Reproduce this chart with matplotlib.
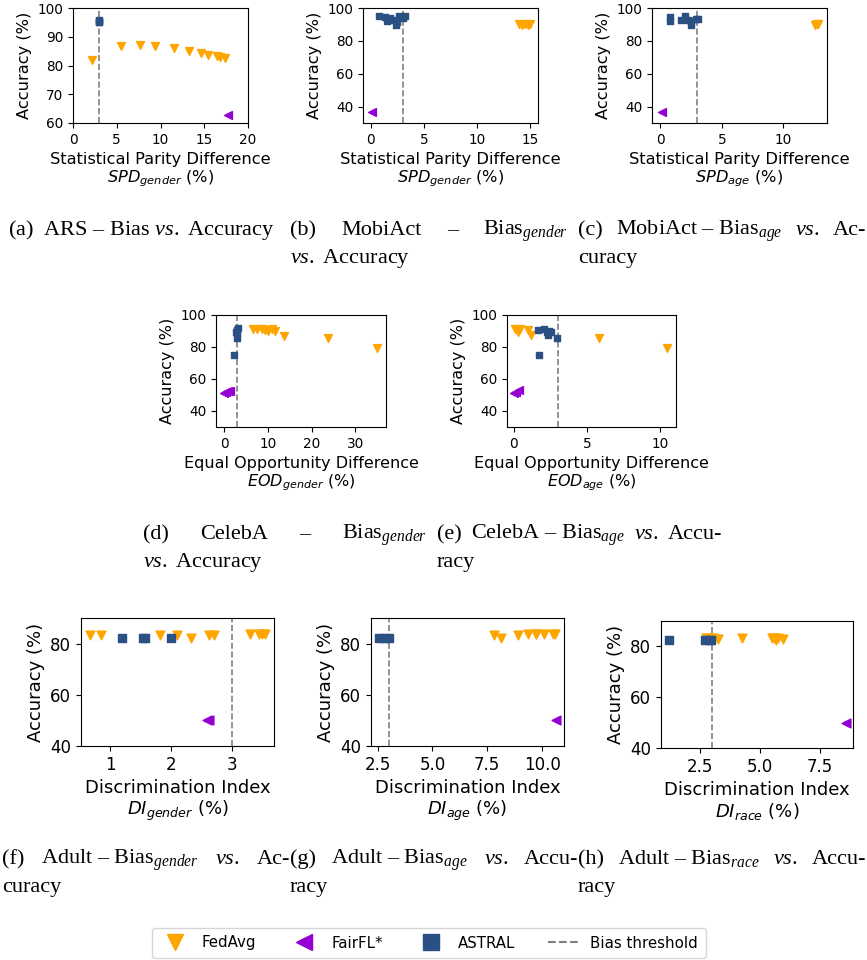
import matplotlib
matplotlib.use("Agg")
import matplotlib.pyplot as plt
from matplotlib.lines import Line2D
from matplotlib.transforms import IdentityTransform

# ---------------------------------------------------------------- data
THRESHOLD = 3.0

# (a) ARS, SPD gender
ars_fedavg_x = [2.2, 5.5, 7.7, 9.4, 11.5, 13.3, 14.6, 15.4, 16.4, 16.8, 17.4]
ars_fedavg_y = [81.8, 86.7, 87.0, 86.9, 86.0, 84.9, 84.2, 83.8, 83.2, 83.0, 82.7]
ars_fairfl_x = [17.7]
ars_fairfl_y = [62.7]
ars_astral_x = [2.95, 2.97, 2.98, 3.0]
ars_astral_y = [95.8, 95.2, 95.5, 95.0]

# (b) MobiAct, SPD gender
mob_g_fedavg_x = [13.9, 14.2, 14.5, 14.8, 15.0]
mob_g_fedavg_y = [90.5, 89.8, 90.2, 89.6, 90.3]
mob_g_fairfl_x = [0.1]
mob_g_fairfl_y = [36.8]
mob_g_astral_x = [0.8, 1.3, 1.8, 1.5, 2.1, 2.5, 2.4, 2.7, 3.0, 3.2]
mob_g_astral_y = [94.9, 94.5, 93.9, 91.9, 92.5, 91.3, 89.8, 94.9, 93.9, 94.9]

# (c) MobiAct, SPD age
mob_a_fedavg_x = [12.6, 12.7, 12.8]
mob_a_fedavg_y = [89.8, 90.4, 90.0]
mob_a_fairfl_x = [0.14]
mob_a_fairfl_y = [36.9]
mob_a_astral_x = [0.76, 0.76, 1.65, 2.0, 2.25, 2.5, 2.5, 2.9, 3.05]
mob_a_astral_y = [94.5, 91.9, 92.5, 94.9, 92.9, 91.9, 89.8, 93.3, 93.5]

# (d) CelebA, EOD gender
cel_g_fedavg_x = [6.7, 7.5, 8.6, 9.4, 10.1, 10.9, 11.7, 13.6, 23.8, 35.0]
cel_g_fedavg_y = [91.0, 91.0, 91.0, 90.6, 90.2, 91.0, 90.2, 86.8, 85.8, 79.5]
cel_g_fairfl_x = [0.0, 0.5, 1.0, 1.4]
cel_g_fairfl_y = [51.5, 52.0, 52.3, 52.6]
cel_g_astral_x = [2.3, 2.9, 2.9, 2.9, 3.1, 2.7]
cel_g_astral_y = [75.3, 90.6, 88.5, 85.4, 91.6, 89.5]

# (e) CelebA, EOD age
cel_a_fedavg_x = [0.11, 0.34, 0.45, 0.3, 0.98, 1.18, 5.86, 10.5]
cel_a_fedavg_y = [91.0, 90.6, 91.0, 89.5, 90.6, 87.5, 85.8, 79.5]
cel_a_fairfl_x = [0.05, 0.18, 0.34]
cel_a_fairfl_y = [51.5, 51.9, 53.0]
cel_a_astral_x = [1.64, 2.05, 2.27, 2.32, 2.55, 2.39, 2.95, 1.73]
cel_a_astral_y = [90.6, 91.0, 89.5, 87.5, 89.5, 90.2, 85.4, 75.3]

# (f) Adult, DI gender
adu_g_fedavg_x = [0.66, 0.84, 1.81, 2.09, 2.32, 2.61, 2.69, 3.29, 3.43, 3.48, 3.53]
adu_g_fedavg_y = [83.2, 83.5, 83.5, 83.2, 82.3, 83.5, 83.5, 83.6, 83.6, 83.6, 83.6]
adu_g_fairfl_x = [2.59, 2.62]
adu_g_fairfl_y = [50.0, 50.1]
adu_g_astral_x = [1.19, 1.54, 1.56, 2.0]
adu_g_astral_y = [82.3, 82.3, 82.3, 82.3]

# (g) Adult, DI age
adu_a_fedavg_x = [7.8, 8.12, 8.91, 9.36, 9.71, 9.74, 10.08, 10.5, 10.58]
adu_a_fedavg_y = [83.2, 82.3, 83.5, 83.6, 83.6, 83.8, 83.6, 83.6, 83.6]
adu_a_fairfl_x = [10.65]
adu_a_fairfl_y = [50.1]
adu_a_astral_x = [2.55, 2.77, 3.0]
adu_a_astral_y = [82.3, 82.3, 82.3]

# (h) Adult, DI race
adu_r_fedavg_x = [2.75, 2.9, 3.05, 3.25, 4.23, 5.5, 5.6, 5.65, 5.75, 5.95]
adu_r_fedavg_y = [83.5, 83.5, 83.3, 83.0, 83.5, 83.5, 83.3, 82.5, 83.2, 83.0]
adu_r_fairfl_x = [8.6]
adu_r_fairfl_y = [50.0]
adu_r_astral_x = [1.2, 2.7, 2.85, 2.95]
adu_r_astral_y = [82.5, 82.5, 82.5, 82.5]

series_labels = ["FedAvg", "FairFL*", "ASTRAL", "Bias threshold"]

# ---------------------------------------------------------------- style
W, H, DPI = 867, 960, 100
FEDAVG_COLOR = "#FFA500"
FAIRFL_COLOR = "#9400D3"
ASTRAL_COLOR = "#2B5084"
THRESH_COLOR = "#808080"

plt.rcParams["font.family"] = "DejaVu Sans"
plt.rcParams["mathtext.rm"] = "Liberation Serif"
plt.rcParams["mathtext.it"] = "Liberation Serif:italic"
plt.rcParams["mathtext.bf"] = "Liberation Serif:bold"

fig = plt.figure(figsize=(W / DPI, H / DPI), dpi=DPI)

metric_names = {"SPD": "Statistical Parity Difference",
                "EOD": "Equal Opportunity Difference",
                "DI": "Discrimination Index"}

panels = [
    dict(box=(73, 8, 248, 123), xlim=(0, 20), ylim=(60, 100),
         xticks=[0, 5, 10, 15, 20], yticks=[60, 70, 80, 90, 100],
         metric="SPD", attr="gender", lab=11.7, tick=9.8,
         fedavg=(ars_fedavg_x, ars_fedavg_y), fairfl=(ars_fairfl_x, ars_fairfl_y),
         astral=(ars_astral_x, ars_astral_y)),
    dict(box=(363, 8, 538, 123), xlim=(-0.72, 15.72), ylim=(30, 100),
         xticks=[0, 5, 10, 15], yticks=[40, 60, 80, 100],
         metric="SPD", attr="gender", lab=11.7, tick=9.8,
         fedavg=(mob_g_fedavg_x, mob_g_fedavg_y), fairfl=(mob_g_fairfl_x, mob_g_fairfl_y),
         astral=(mob_g_astral_x, mob_g_astral_y)),
    dict(box=(652, 8, 827, 123), xlim=(-0.68, 13.54), ylim=(30, 100),
         xticks=[0, 5, 10], yticks=[40, 60, 80, 100],
         metric="SPD", attr="age", lab=11.7, tick=9.8,
         fedavg=(mob_a_fedavg_x, mob_a_fedavg_y), fairfl=(mob_a_fairfl_x, mob_a_fairfl_y),
         astral=(mob_a_astral_x, mob_a_astral_y)),
    dict(box=(216, 315, 386, 427), xlim=(-1.83, 37.0), ylim=(30, 100),
         xticks=[0, 10, 20, 30], yticks=[40, 60, 80, 100],
         metric="EOD", attr="gender", lab=11.5, tick=9.8,
         fedavg=(cel_g_fedavg_x, cel_g_fedavg_y), fairfl=(cel_g_fairfl_x, cel_g_fairfl_y),
         astral=(cel_g_astral_x, cel_g_astral_y)),
    dict(box=(507, 315, 676, 427), xlim=(-0.45, 11.09), ylim=(30, 100),
         xticks=[0, 5, 10], yticks=[40, 60, 80, 100],
         metric="EOD", attr="age", lab=11.5, tick=9.8,
         fedavg=(cel_a_fedavg_x, cel_a_fedavg_y), fairfl=(cel_a_fairfl_x, cel_a_fairfl_y),
         astral=(cel_a_astral_x, cel_a_astral_y)),
    dict(box=(81, 618, 274, 746), xlim=(0.52, 3.68), ylim=(40, 90),
         xticks=[1, 2, 3], yticks=[40, 60, 80],
         metric="DI", attr="gender", lab=13, tick=12,
         fedavg=(adu_g_fedavg_x, adu_g_fedavg_y), fairfl=(adu_g_fairfl_x, adu_g_fairfl_y),
         astral=(adu_g_astral_x, adu_g_astral_y)),
    dict(box=(371, 618, 564, 746), xlim=(2.2, 11.0), ylim=(40, 90),
         xticks=[2.5, 5.0, 7.5, 10.0], yticks=[40, 60, 80],
         metric="DI", attr="age", lab=13, tick=12,
         fedavg=(adu_a_fedavg_x, adu_a_fedavg_y), fairfl=(adu_a_fairfl_x, adu_a_fairfl_y),
         astral=(adu_a_astral_x, adu_a_astral_y)),
    dict(box=(661, 621, 853, 748), xlim=(0.86, 8.89), ylim=(40, 90),
         xticks=[2.5, 5.0, 7.5], yticks=[40, 60, 80],
         metric="DI", attr="race", lab=13, tick=12,
         fedavg=(adu_r_fedavg_x, adu_r_fedavg_y), fairfl=(adu_r_fairfl_x, adu_r_fairfl_y),
         astral=(adu_r_astral_x, adu_r_astral_y)),
]

for p in panels:
    x0, y0, x1, y1 = p["box"]
    big = p["tick"] > 11
    ax = fig.add_axes([x0 / W, 1 - y1 / H, (x1 - x0) / W, (y1 - y0) / H])
    ax.scatter(*p["fedavg"], marker="v", s=40 if big else 32, color=FEDAVG_COLOR, zorder=3)
    ax.scatter(*p["fairfl"], marker="<", s=40 if big else 32, color=FAIRFL_COLOR, zorder=3)
    ax.scatter(*p["astral"], marker="s", s=30 if big else 24, color=ASTRAL_COLOR, zorder=4)
    ax.axvline(THRESHOLD, color=THRESH_COLOR, ls="--", lw=1.2, zorder=2)
    ax.set_xlim(*p["xlim"])
    ax.set_ylim(*p["ylim"])
    ax.set_xticks(p["xticks"])
    ax.set_yticks(p["yticks"])
    ax.tick_params(labelsize=p["tick"])
    ax.set_xlabel(f"{metric_names[p['metric']]}\n${p['metric']}_{{{p['attr']}}}$ (%)",
                  fontsize=p["lab"], linespacing=1.1)
    ax.set_ylabel("Accuracy (%)", fontsize=p["lab"])

# ---------------------------------------------------------------- captions
renderer = fig.canvas.get_renderer()
CAP_SIZE = 16


def caption_line(tokens, x0, y_base, x1=None):
    """Place tokens on one baseline; spread them to end at x1 if given."""
    if isinstance(tokens, str):
        tokens = [tokens]
    texts = [fig.text(0, 0, tok, transform=IdentityTransform(), fontsize=CAP_SIZE,
                      family="Liberation Serif", math_fontfamily="custom",
                      ha="left", va="baseline") for tok in tokens]
    widths = [t.get_window_extent(renderer).width for t in texts]
    gap = 0 if (x1 is None or len(texts) == 1) else (x1 - x0 - sum(widths)) / (len(texts) - 1)
    x = x0
    for t, w in zip(texts, widths):
        t.set_position((x, H - y_base))
        x += w + gap


VS = r"$vs.$"
caption_line(r"(a)  ARS – Bias " + VS + " Accuracy", 8, 235)
caption_line(["(b)", "MobiAct", "–", r"Bias$_{gender}$"], 290, 235, 568)
caption_line(VS + " Accuracy", 290, 263)
caption_line(["(c)", "MobiAct – Bias$_{age}$", VS, "Ac-"], 578, 235, 866)
caption_line("curacy", 578, 263)

caption_line(["(d)", "CelebA", "–", r"Bias$_{gender}$"], 143, 539, 427)
caption_line(VS + " Accuracy", 143, 567)
caption_line(["(e)", "CelebA – Bias$_{age}$", VS, "Accu-"], 437, 539, 722)
caption_line("racy", 437, 567)

caption_line(["(f)", "Adult – Bias$_{gender}$", VS, "Ac-"], 2, 864, 290)
caption_line("curacy", 2, 892)
caption_line(["(g)", "Adult – Bias$_{age}$", VS, "Accu-"], 290, 864, 578)
caption_line("racy", 290, 892)
caption_line(["(h)", "Adult – Bias$_{race}$", VS, "Accu-"], 578, 864, 866)
caption_line("racy", 578, 892)

# ---------------------------------------------------------------- legend
handles = [
    Line2D([], [], ls="none", marker="v", ms=12, color=FEDAVG_COLOR),
    Line2D([], [], ls="none", marker="<", ms=12, color=FAIRFL_COLOR),
    Line2D([], [], ls="none", marker="s", ms=11, color=ASTRAL_COLOR),
    Line2D([], [], ls="--", lw=1.5, color=THRESH_COLOR),
]
fig.legend(handles, series_labels, loc="center", ncol=4, fontsize=10.8,
           bbox_to_anchor=(429 / W, 1 - 943 / H), columnspacing=2.2,
           borderpad=0.5)

fig.savefig("out.png", dpi=DPI)
